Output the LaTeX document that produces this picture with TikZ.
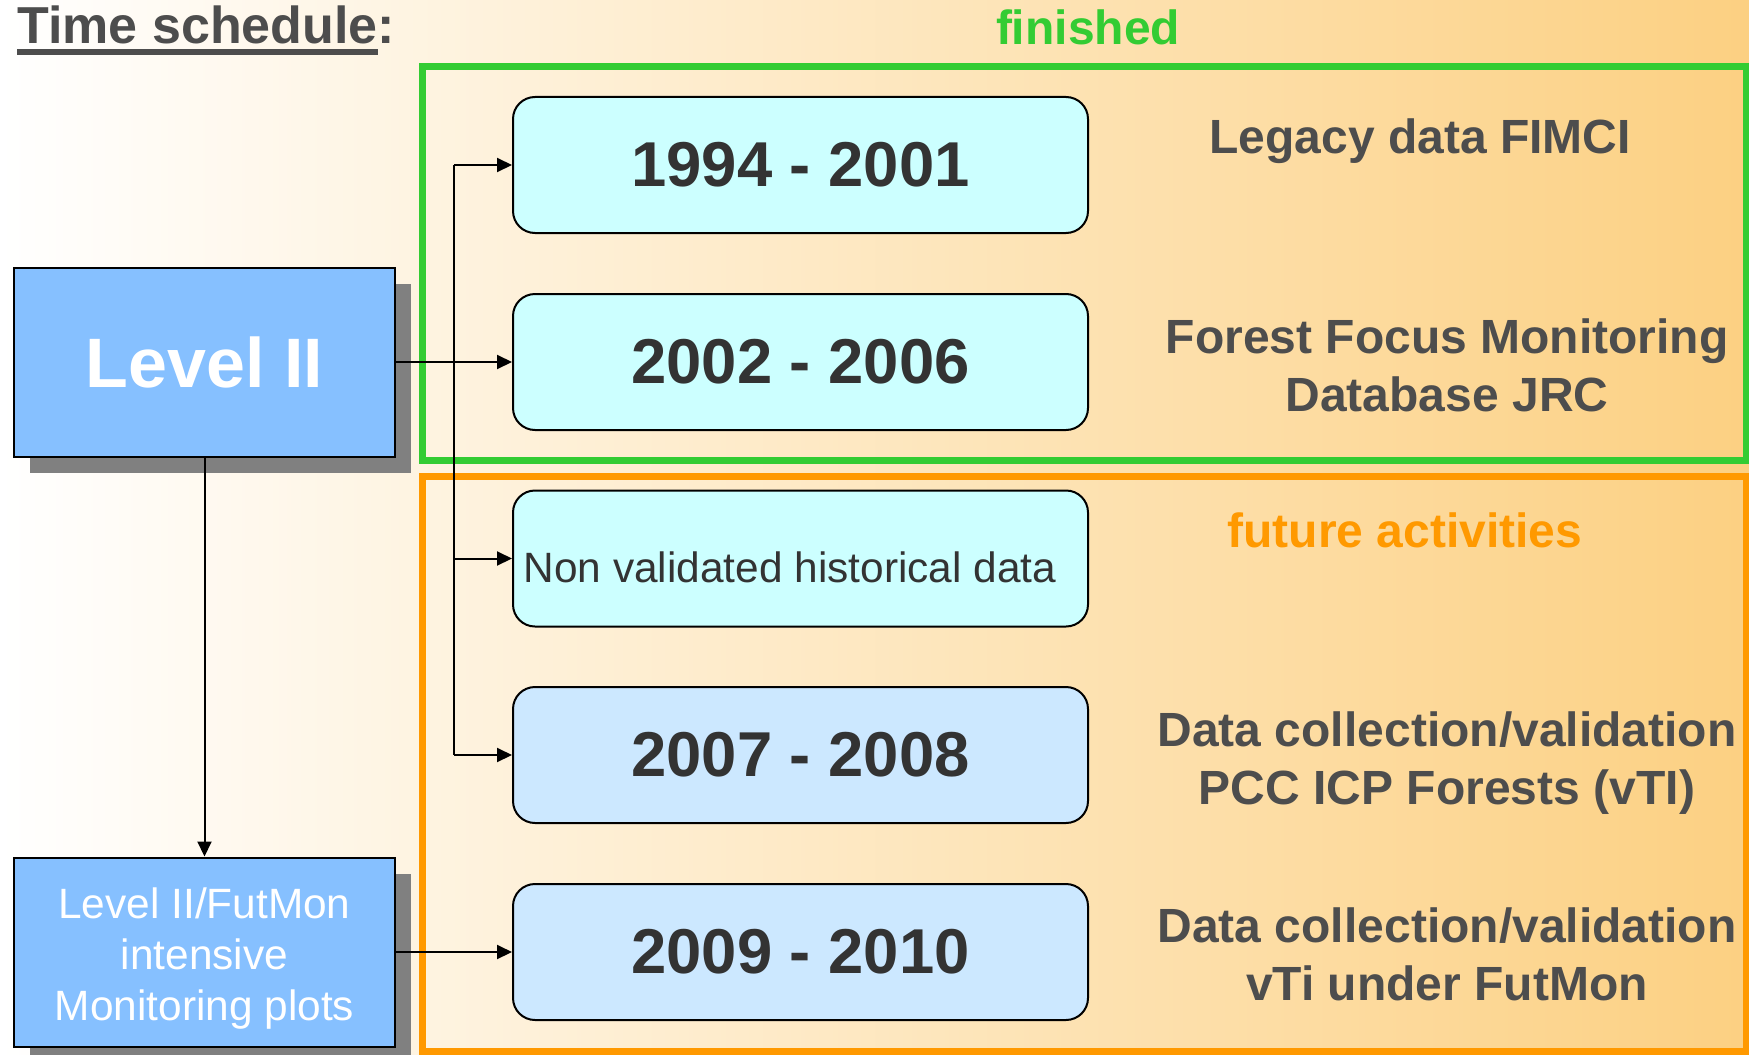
\documentclass[tikz,border=0pt]{standalone}
\usepackage{fontspec}
\setmainfont{Liberation Sans}
\usetikzlibrary{arrows.meta,shadows}

\definecolor{txtgray}{HTML}{4D4D4D}
\definecolor{yeargray}{HTML}{333333}
\definecolor{fgreen}{HTML}{33CC33}
\definecolor{forange}{HTML}{FF9900}
\definecolor{cyanbox}{HTML}{CCFFFF}
\definecolor{bluebox}{HTML}{CCE8FF}
\definecolor{levelblue}{HTML}{86C0FF}
\definecolor{shadowgray}{HTML}{808080}
\definecolor{bgright}{RGB}{252,208,130}
\definecolor{bgmid}{RGB}{254,236,208}

\tikzset{
  lvl/.style={draw=black, line width=1pt, fill=levelblue, minimum width=190.5pt,
    minimum height=94.5pt, inner sep=0pt, text=white, align=center,
    drop shadow={shadow xshift=8pt, shadow yshift=-8pt, fill=shadowgray, opacity=1}},
  yearbox/.style={draw=black, line width=1pt, rounded corners=11pt, minimum width=287.5pt,
    minimum height=68pt, inner sep=0pt, font=\fontsize{31.7}{38}\selectfont\bfseries, text=yeargray},
  lbl/.style={font=\fontsize{24}{29}\selectfont\bfseries, text=txtgray, align=center, anchor=base, inner sep=0pt},
  arr/.style={-{Triangle[length=7.5pt,width=7pt]}, line width=1pt},
  frame/.style={line width=3.5pt},
}

\begin{document}
\begin{tikzpicture}[x=0.5pt,y=-0.5pt]
\useasboundingbox (0,0) rectangle (1749,1054);
\shade[left color=white, middle color=bgmid, right color=bgright] (0,0) rectangle (1749,1054);

% frames
\draw[frame, fgreen] (422,67) rectangle (1746,460);
\draw[frame, forange] (422,476) rectangle (1746,1051);

% title and headings
\node[anchor=base west, font=\fontsize{26}{30}\selectfont\bfseries, text=txtgray, inner sep=0pt]
  (title) at (17,44) {\setbox0\hbox{Time schedule}\rlap{\rule[-5.5pt]{\wd0}{3pt}}\box0:};
\node[lbl, text=fgreen] (fin) at (1088,45) {finished};
\node[lbl, text=forange] (futact) at (1405,547) {future activities};

% left boxes
\node[lvl, font=\fontsize{35}{40}\selectfont\bfseries] (lvl) at (204.5,362) {Level II};
\node[lvl] (fut) at (204.5,952) {};
\node[align=center, text=white, font=\fontsize{21.2}{25.6}\selectfont, inner sep=0pt]
  (futtxt) at (204.5,958.5) {Level II/FutMon\\intensive\\Monitoring plots};

% year boxes
\node[yearbox, fill=cyanbox] (y1) at (800.5,165) {1994 - 2001};
\node[yearbox, fill=cyanbox] (y2) at (800.5,362) {2002 - 2006};
\node[yearbox, fill=cyanbox] (y3) at (800.5,558.5) {};
\node[anchor=base, font=\fontsize{21.2}{25}\selectfont, text=yeargray, inner sep=0pt] (t3) at (790,582) {Non validated historical data};
\node[yearbox, fill=bluebox] (y4) at (800.5,755) {2007 - 2008};
\node[yearbox, fill=bluebox] (y5) at (800.5,952) {2009 - 2010};

% right labels (base = last line)
\node[lbl] (l1) at (1420,153) {Legacy data FIMCI};
\node[lbl] (l2) at (1447,411) {Forest Focus Monitoring\\Database JRC};
\node[lbl] (l4) at (1447,804) {Data collection/validation\\PCC ICP Forests (vTI)};
\node[lbl] (l5) at (1447,1000) {Data collection/validation\\vTi under FutMon};

% connectors
\coordinate (j1) at (454,165);
\coordinate (j3) at (454,558.5);
\coordinate (j4) at (454,755);
\draw[line width=1pt] (j1) -- (j4);
\draw[arr] (j1) -- (y1.west);
\draw[arr] (lvl.east) -- (y2.west);
\draw[arr] (j3) -- (y3.west);
\draw[arr] (j4) -- (y4.west);
\draw[arr] (lvl.south) -- (fut.north);
\draw[arr] (fut.east) -- (y5.west);
\end{tikzpicture}
\end{document}
